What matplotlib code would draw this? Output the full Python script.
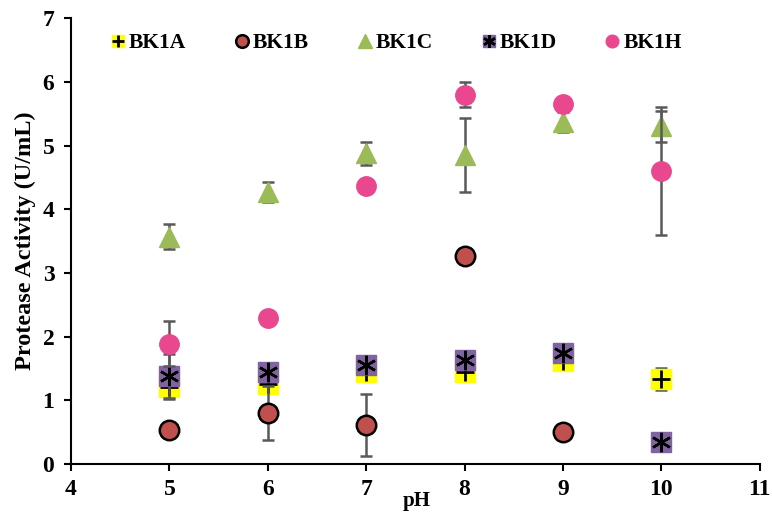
import matplotlib
matplotlib.use("Agg")
import matplotlib.pyplot as plt
from matplotlib.legend_handler import HandlerTuple

# Data
ph = [5, 6, 7, 8, 9, 10]

bk1a = [1.20, 1.25, 1.45, 1.45, 1.62, 1.33]
bk1a_err = [0.18, 0, 0, 0, 0, 0.17]

bk1b = [0.53, 0.80, 0.61, 3.26, 0.50, None]
bk1b_err = [0, 0.43, 0.49, 0, 0, 0]

bk1c = [3.57, 4.27, 4.88, 4.85, 5.37, 5.30]
bk1c_err = [0.20, 0.16, 0.18, 0.58, 0.15, 0.24]

bk1d = [1.38, 1.45, 1.56, 1.63, 1.74, 0.35]
bk1d_err = [0.35, 0, 0, 0, 0, 0]

bk1h = [1.89, 2.29, 4.37, 5.80, 5.66, 4.60]
bk1h_err = [0.36, 0, 0, 0.19, 0, 1.0]

labels = ["BK1A", "BK1B", "BK1C", "BK1D", "BK1H"]

plt.rcParams["font.family"] = "Liberation Serif"
plt.rcParams["font.weight"] = "bold"

fig = plt.figure(figsize=(7.72, 5.2), dpi=100)
ax = fig.add_axes([0.092, 0.108, 0.892, 0.857])

err_kw = dict(ecolor="#595959", elinewidth=1.8, capsize=4.5, capthick=1.8, linestyle="none")


def clean(xs, ys, es):
    pts = [(x, y, e) for x, y, e in zip(xs, ys, es) if y is not None]
    return [p[0] for p in pts], [p[1] for p in pts], [p[2] for p in pts]


# BK1A: yellow square with black plus
x, y, e = clean(ph, bk1a, bk1a_err)
ax.errorbar(x, y, yerr=e, fmt="none", zorder=2, **err_kw)
ha1 = ax.plot(x, y, "s", ms=14, color="#FFFF00", mec="#FFFF00", zorder=3)[0]
ha2 = ax.plot(x, y, "+", ms=13, color="black", mew=2, zorder=3)[0]

# BK1B: red circle, black edge
x, y, e = clean(ph, bk1b, bk1b_err)
ax.errorbar(x, y, yerr=e, fmt="none", zorder=4, **err_kw)
hb = ax.plot(x, y, "o", ms=14, color="#C0504D", mec="black", mew=1.8, zorder=5)[0]

# BK1C: green triangle
x, y, e = clean(ph, bk1c, bk1c_err)
ax.errorbar(x, y, yerr=e, fmt="none", zorder=6, **err_kw)
hc = ax.plot(x, y, "^", ms=15, color="#9BBB59", mec="#9BBB59", zorder=7)[0]

# BK1D: purple square with black asterisk
x, y, e = clean(ph, bk1d, bk1d_err)
ax.errorbar(x, y, yerr=e, fmt="none", zorder=8, **err_kw)
hd1 = ax.plot(x, y, "s", ms=14, color="#8064A2", mec="#8064A2", zorder=9)[0]
hd2 = ax.plot(x, y, marker=(6, 2, 0), ms=14, color="black", mew=1.8,
              linestyle="none", zorder=9)[0]

# BK1H: pink circle
x, y, e = clean(ph, bk1h, bk1h_err)
ax.errorbar(x, y, yerr=e, fmt="none", zorder=10, **err_kw)
hh = ax.plot(x, y, "o", ms=14, color="#E9488E", mec="#E9488E", zorder=11)[0]

ax.set_xlim(4, 11)
ax.set_ylim(0, 7)
ax.set_xticks(range(4, 12))
ax.set_yticks(range(0, 8))
ax.spines["top"].set_visible(False)
ax.spines["right"].set_visible(False)
for s in ("left", "bottom"):
    ax.spines[s].set_linewidth(1.5)
ax.tick_params(axis="both", direction="out", length=5, width=1.5, labelsize=17)
ax.tick_params(axis="y", pad=7)
ax.tick_params(axis="x", pad=6)

ax.set_xlabel("pH", fontsize=15, fontweight="bold", va="top")
ax.xaxis.set_label_coords(0.502, -0.062)
ax.set_ylabel("Protease Activity (U/mL)", fontsize=17.5, fontweight="bold", labelpad=5)

leg = ax.legend([(ha1, ha2), hb, hc, (hd1, hd2), hh], labels,
                handler_map={tuple: HandlerTuple(ndivide=1)},
                loc="center", bbox_to_anchor=(0.471, 0.944), ncol=5,
                frameon=False, fontsize=15.5, handlelength=0.8, handletextpad=0.1,
                columnspacing=2.2, markerscale=0.65, borderaxespad=0)
for t in leg.get_texts():
    t.set_fontweight("bold")

fig.savefig("out.png", dpi=100)
